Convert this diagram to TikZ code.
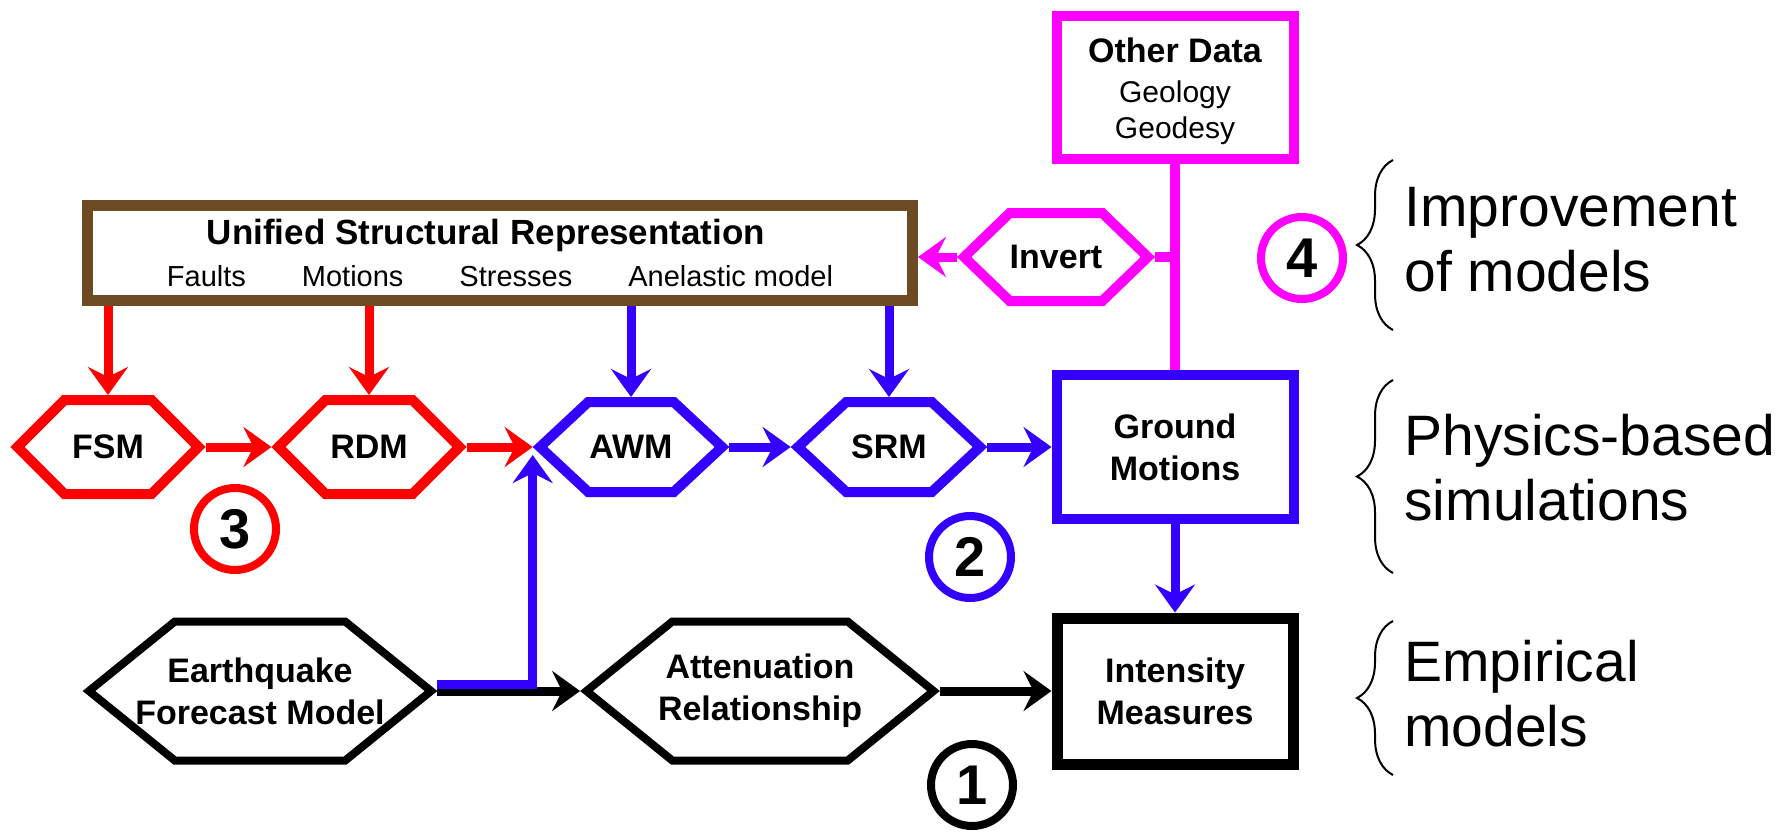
\documentclass[tikz,border=0pt]{standalone}
\usepackage{fontspec}
\setmainfont{Liberation Sans}
\usepackage{tikz}
\usetikzlibrary{shapes.symbols,arrows.meta,decorations.pathreplacing}
\definecolor{usrbrown}{RGB}{110,75,35}
\definecolor{simblue}{RGB}{51,0,255}
\definecolor{invmagenta}{RGB}{255,0,255}
\definecolor{fsmred}{RGB}{255,0,0}
\tikzstyle{modelbox} = [draw, rectangle, fill=white, line width=5pt, align=center,
    inner sep=0pt, font=\fontsize{17}{21}\selectfont\bfseries]
\tikzstyle{hexbox} = [draw, signal, signal to=east and west, signal pointer angle=90,
    fill=white, line width=5pt, align=center, inner sep=0pt,
    font=\fontsize{17}{21}\selectfont\bfseries]
\tikzstyle{stepnum} = [draw, circle, line width=4pt, minimum size=41pt, inner sep=0pt,
    font=\fontsize{28}{28}\selectfont\bfseries]
\tikzstyle{flow} = [line width=4.5pt, -{Stealth[length=14pt,width=20pt,inset=5pt]}]
\tikzstyle{grouptext} = [anchor=west, align=left, inner sep=0pt, font=\fontsize{28.5}{32.5}\selectfont]
\tikzstyle{groupbrace} = [decorate, decoration={brace, amplitude=18pt}, line width=1pt]

\begin{document}
\begin{tikzpicture}[x=0.5pt, y=-0.5pt]
\useasboundingbox (0,0) rectangle (1787,831);

\node[modelbox, draw=usrbrown, line width=5.5pt, minimum width=412.5pt, minimum height=47.5pt] (usr) at (500,253)
    {{\fontsize{17.5}{21}\selectfont Unified Structural Representation}\hspace*{14pt}\\{\mdseries\fontsize{14.5}{21}\selectfont Faults\hspace{28pt}Motions\hspace{28pt}Stresses\hspace{28pt}Anelastic model}};

\node[hexbox, draw=fsmred, minimum width=90.5pt, minimum height=47pt] (fsm) at (108,447) {FSM};
\node[hexbox, draw=fsmred, minimum width=90.5pt, minimum height=47pt] (rdm) at (369,447) {RDM};
\node[hexbox, draw=simblue, minimum width=91pt, minimum height=45pt, signal pointer angle=86] (awm) at (631,447) {AWM};
\node[hexbox, draw=simblue, minimum width=91pt, minimum height=45pt, signal pointer angle=86] (srm) at (889,447) {SRM};
\node[hexbox, draw=invmagenta, minimum width=88.5pt, minimum height=44pt, signal pointer angle=88] (invert) at (1056,257) {Invert};
\node[hexbox, line width=4pt, inner xsep=-20pt, minimum width=171pt, minimum height=69.5pt, signal pointer angle=78] (efm) at (260,691) {Earthquake\\Forecast Model};
\node[hexbox, line width=4pt, inner xsep=-12pt, minimum width=173.5pt, minimum height=69.5pt, signal pointer angle=78] (atten) at (760,691) {Attenuation\\Relationship};

\node[modelbox, draw=invmagenta, minimum width=118.5pt, minimum height=71.5pt, font=\fontsize{17}{18}\selectfont\bfseries] (other) at (1175,87)
    {\rule{0pt}{16.5pt}Other Data\\[2pt]{\mdseries\fontsize{15}{18}\selectfont Geology}\\{\mdseries\fontsize{15}{18}\selectfont Geodesy}};
\node[modelbox, draw=simblue, minimum width=118.5pt, minimum height=72pt] (ground) at (1175,447) {Ground\\Motions};
\node[modelbox, line width=5.5pt, minimum width=118pt, minimum height=73pt] (intensity) at (1175,691) {Intensity\\Measures};

\node[stepnum] (one) at (972,785) {1};
\node[stepnum, draw=simblue] (two) at (970,557) {2};
\node[stepnum, draw=fsmred] (three) at (235,529) {3};
\node[stepnum, draw=invmagenta] (four) at (1302,258) {4};

\draw[flow, fsmred] (usr.south -| fsm.north) -- (fsm.north);
\draw[flow, fsmred] (usr.south -| rdm.north) -- (rdm.north);
\draw[flow, simblue] (usr.south -| awm.north) -- (awm.north);
\draw[flow, simblue] (usr.south -| srm.north) -- (srm.north);
\draw[flow, fsmred] (fsm.east) -- (rdm.west);
\draw[flow, fsmred] (rdm.east) -- (awm.west);
\draw[flow, simblue] (awm.east) -- (srm.west);
\draw[flow, simblue] (srm.east) -- (ground.west);
\draw[flow, simblue] (ground.south) -- (intensity.north);
\draw[line width=5pt, invmagenta] (other.south) -- (ground.north);
\draw[line width=5pt, invmagenta] (invert.east) -- (invert.east -| other.south);
\draw[flow, invmagenta] (invert.west) -- (invert.west -| usr.east);
\draw[flow] (efm.east) -- (atten.west);
\draw[flow, simblue] ([yshift=3.5pt]efm.east) -| ([yshift=-4pt]awm.west);
\draw[flow] (atten.east) -- (intensity.west);

\draw[groupbrace] (1393,330) -- (1393,160);
\draw[groupbrace] (1393,573) -- (1393,380);
\draw[groupbrace] (1393,775) -- (1393,621);
\node[grouptext] (improve) at (1404,240) {Improvement\\of models};
\node[grouptext] (physics) at (1404,468) {Physics-based\\simulations};
\node[grouptext] (empirical) at (1404,694) {Empirical\\models};
\end{tikzpicture}
\end{document}
